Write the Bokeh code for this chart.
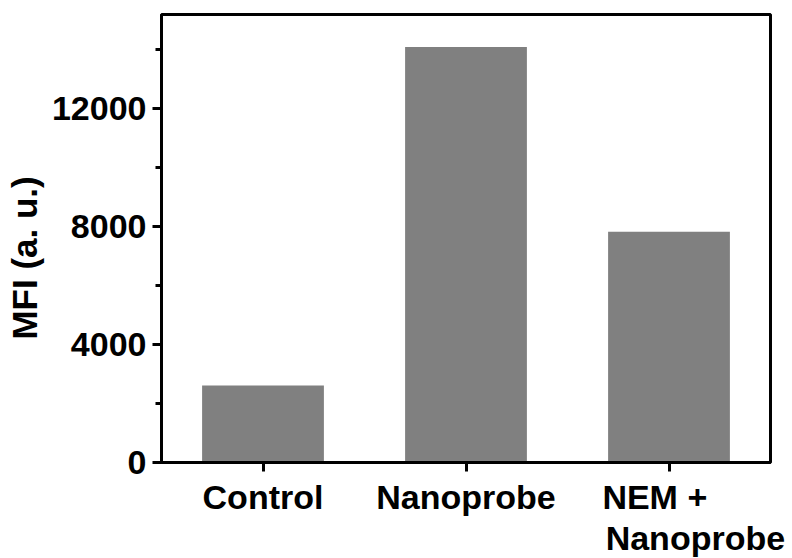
from bokeh.plotting import figure
from bokeh.models import Range1d, SingleIntervalTicker, FixedTicker, LinearAxis
from bokeh.embed import file_html
from bokeh.resources import INLINE

categories = ["Control", "Nanoprobe", "NEM + Nanoprobe"]
tick_labels = ["Control", "Nanoprobe", "NEM +   "]
second_line_label = "Nanoprobe"
mfi = [2610, 14100, 7830]

FONT = "Liberation Sans"
TICK_SIZE = "34px"

# category positions: one unit per group, centred in its slot
xpos = [i + 0.5 for i in range(len(categories))]

p = figure(
    x_range=Range1d(0, len(categories)),
    y_range=Range1d(0, 15200),
    frame_width=609, frame_height=448,
    min_border_left=161, min_border_right=22,
    min_border_top=14, min_border_bottom=96,
    output_backend="svg", toolbar_location=None,
)

p.vbar(x=xpos, top=mfi, width=0.6, fill_color="#808080", line_color=None)

p.xgrid.visible = False
p.ygrid.visible = False
p.outline_line_color = "black"
p.outline_line_width = 3
p.outline_line_alpha = 1

p.yaxis.ticker = SingleIntervalTicker(interval=4000, num_minor_ticks=2)
p.yaxis.axis_label = "MFI (a. u.)    "
p.xaxis.ticker = FixedTicker(ticks=xpos, minor_ticks=[])
p.xaxis.major_label_overrides = {x: t for x, t in zip(xpos, tick_labels)}

for ax in (p.xaxis[0], p.yaxis[0]):
    ax.axis_line_width = 3
    ax.axis_line_color = "black"
    ax.major_tick_line_width = 3
    ax.major_tick_line_color = "black"
    ax.major_tick_in = 0
    ax.major_tick_out = 9
    ax.minor_tick_line_width = 3
    ax.minor_tick_line_color = "black"
    ax.minor_tick_in = 0
    ax.minor_tick_out = 6
    ax.major_label_text_font = FONT
    ax.major_label_text_font_style = "bold"
    ax.major_label_text_font_size = TICK_SIZE
    ax.major_label_text_color = "black"
    ax.axis_label_text_font = FONT
    ax.axis_label_text_font_style = "bold"
    ax.axis_label_text_font_size = "35px"
    ax.axis_label_text_color = "black"

p.xaxis.major_label_standoff = 6
p.yaxis.major_label_standoff = 6
p.yaxis.axis_label_standoff = 5

# second line of the third category label ("NEM + / Nanoprobe"), left aligned
line2_pos = round(xpos[2] + 0.13, 2)
ax2 = LinearAxis(
    ticker=FixedTicker(ticks=[line2_pos], minor_ticks=[]),
    major_label_overrides={line2_pos: second_line_label},
    axis_line_color=None, major_tick_line_color=None, minor_tick_line_color=None,
    major_tick_in=0, major_tick_out=0, minor_tick_in=0, minor_tick_out=0,
    major_label_standoff=0,
    major_label_text_font=FONT, major_label_text_font_style="bold",
    major_label_text_font_size=TICK_SIZE, major_label_text_color="black",
)
p.add_layout(ax2, "below")

open("out.html", "w").write(file_html(p, INLINE))
